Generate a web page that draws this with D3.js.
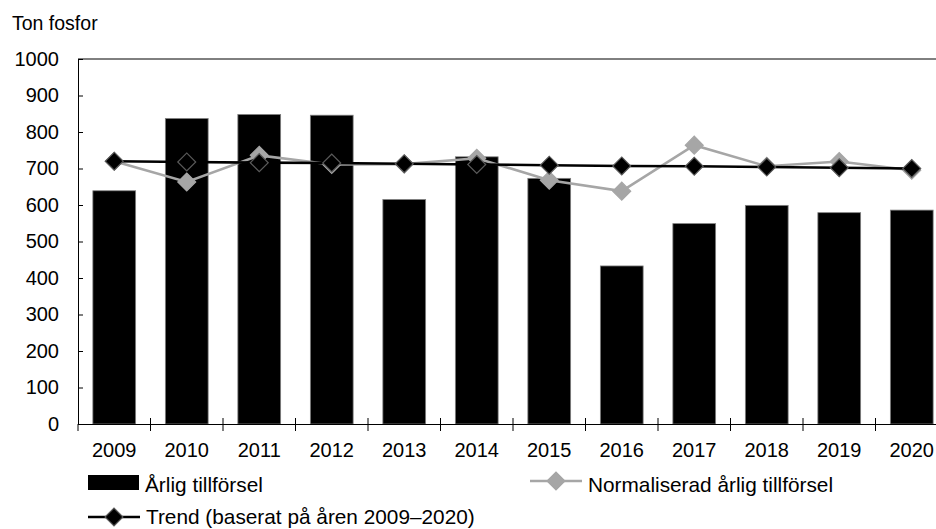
<!DOCTYPE html>
<html>
<head>
<meta charset="utf-8">
<script src="https://cdn.jsdelivr.net/npm/d3@7"></script>
<style>
  body { margin: 0; background: #fff; }
  svg { display: block; font-family: "Liberation Sans", Arial, sans-serif; }
</style>
</head>
<body>
<svg id="chart" width="936" height="529"></svg>
<script>
// data
const years = ["2009", "2010", "2011", "2012", "2013", "2014", "2015", "2016", "2017", "2018", "2019", "2020"];
const annual = [639, 837, 848, 846, 615, 732, 673, 433, 549, 599, 579, 586];
const normalized = [720, 663, 736, 711, 712, 728, 668, 638, 764, 706, 719, 695];
const trend = [720, 718, 716, 715, 713, 711, 709, 707, 706, 704, 702, 700];
const yTicks = [0, 100, 200, 300, 400, 500, 600, 700, 800, 900, 1000];

const svg = d3.select("#chart");
const plotLeft = 78, plotRight = 948, plotTop = 59, plotBottom = 424;
const font = '"Liberation Sans", Arial, sans-serif';

const x = d3.scaleBand().domain(years).range([plotLeft, plotRight]).padding(0);
const y = d3.scaleLinear().domain([0, 1000]).range([plotBottom, plotTop]);
const barW = x.bandwidth() * 0.59;

// bars
svg.append("g").selectAll("rect")
    .data(annual)
    .join("rect")
    .attr("x", (d, i) => x(years[i]) + (x.bandwidth() - barW) / 2)
    .attr("y", d => y(d))
    .attr("width", barW)
    .attr("height", d => y(0) - y(d))
    .attr("fill", "#000")
    .attr("stroke", "#808080")
    .attr("stroke-width", 0.8);

// plot frame (top border + left axis)
svg.append("line")
    .attr("x1", plotLeft).attr("x2", plotRight)
    .attr("y1", plotTop).attr("y2", plotTop)
    .attr("stroke", "#000").attr("stroke-width", 1);

// y axis, ticks pointing inward
const yAxis = d3.axisLeft(y).tickValues(yTicks).tickFormat(d3.format("d"))
    .tickSizeInner(-5).tickSizeOuter(0).tickPadding(19);
svg.append("g")
    .attr("transform", `translate(${plotLeft},0)`)
    .call(yAxis)
    .attr("font-family", font)
    .call(g => g.selectAll("text").style("font-size", "20px").attr("fill", "#000"))
    .call(g => g.select(".domain").attr("stroke", "#000"));

// x axis labels
const xAxis = d3.axisBottom(x).tickSize(0).tickPadding(19);
svg.append("g")
    .attr("transform", `translate(0,${plotBottom})`)
    .call(xAxis)
    .attr("font-family", font)
    .call(g => g.selectAll("text").style("font-size", "20px").attr("fill", "#000"))
    .call(g => g.select(".domain").attr("stroke", "#000"));

// category boundary ticks across the axis
const bounds = years.map(d => x(d)).concat([plotRight]);
svg.append("g").selectAll("line")
    .data(bounds)
    .join("line")
    .attr("x1", d => d).attr("x2", d => d)
    .attr("y1", (d, i) => i === 0 ? plotBottom : plotBottom - 6)
    .attr("y2", plotBottom + 7)
    .attr("stroke", "#000");

const cx = i => x(years[i]) + x.bandwidth() / 2;
const diamond = d3.symbol(d3.symbolSquare, 160);

function series(values, color, fill, stroke) {
    const line = d3.line().x((d, i) => cx(i)).y(d => y(d));
    svg.append("path")
        .datum(values)
        .attr("fill", "none")
        .attr("stroke", color)
        .attr("stroke-width", 2.6)
        .attr("d", line);
    svg.append("g").selectAll("path")
        .data(values)
        .join("path")
        .attr("d", diamond)
        .attr("transform", (d, i) => `translate(${cx(i)},${y(d)}) rotate(45)`)
        .attr("fill", fill)
        .attr("stroke", stroke)
        .attr("stroke-width", 1.2);
}

series(normalized, "#a6a6a6", "#a6a6a6", "#a6a6a6");
series(trend, "#000", "#000", "#5a5a5a");

// title
svg.append("text")
    .attr("x", 12).attr("y", 30)
    .style("font-size", "19.5px")
    .text("Ton fosfor");

// legend
const lg = svg.append("g").style("font-size", "20.8px");
lg.append("rect").attr("x", 88).attr("y", 475).attr("width", 51).attr("height", 15).attr("fill", "#000");
lg.append("text").attr("x", 145).attr("y", 492).text("Årlig tillförsel");

lg.append("line").attr("x1", 530).attr("x2", 582).attr("y1", 481).attr("y2", 481)
    .attr("stroke", "#a6a6a6").attr("stroke-width", 2.6);
lg.append("path").attr("d", diamond).attr("transform", "translate(556,481) rotate(45)")
    .attr("fill", "#a6a6a6").attr("stroke", "#a6a6a6").attr("stroke-width", 1.2);
lg.append("text").attr("x", 588).attr("y", 492).text("Normaliserad årlig tillförsel");

lg.append("line").attr("x1", 88).attr("x2", 140).attr("y1", 517).attr("y2", 517)
    .attr("stroke", "#000").attr("stroke-width", 2.6);
lg.append("path").attr("d", diamond).attr("transform", "translate(114,517) rotate(45)")
    .attr("fill", "#000").attr("stroke", "#5a5a5a").attr("stroke-width", 1.2);
lg.append("text").attr("x", 146).attr("y", 524).text("Trend (baserat på åren 2009–2020)");
</script>
</body>
</html>
